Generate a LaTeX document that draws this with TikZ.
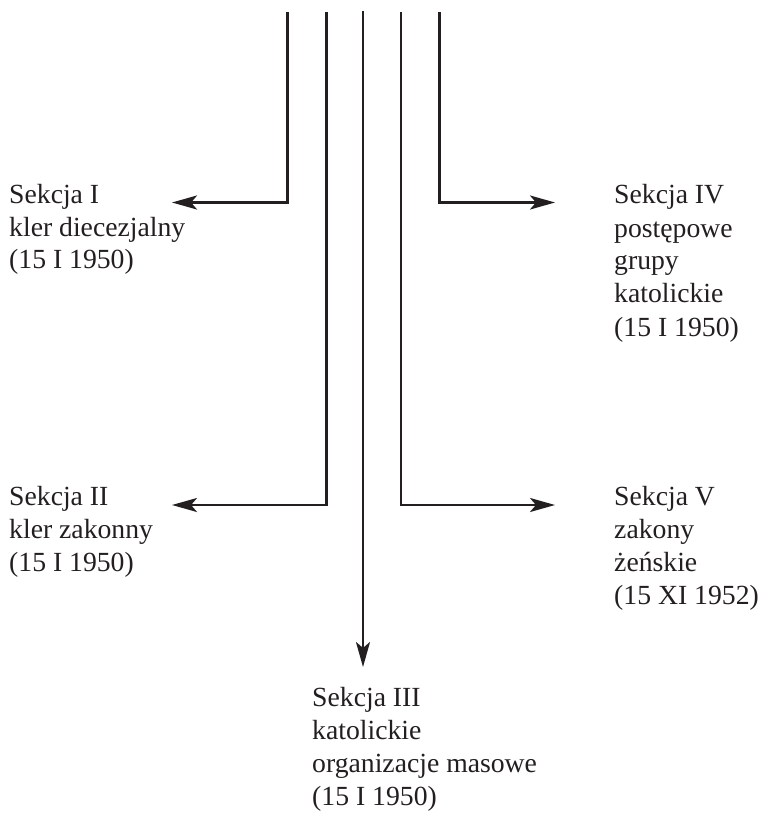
\documentclass[tikz,border=0pt]{standalone}
\usepackage{fontspec}
\setmainfont{Liberation Serif}
\usetikzlibrary{arrows.meta}
\definecolor{ink}{RGB}{35,31,32}
\begin{document}
\begin{tikzpicture}[x=1pt,y=-1pt,
  conn/.style={draw=ink, line width=2.6pt, line join=miter,
    -{Stealth[length=25pt,width=14pt,inset=6pt]}},
  sect/.style={anchor=base west, inner sep=0pt, text=ink,
    font=\fontsize{27.7}{33}\selectfont}]
\useasboundingbox (0,0) rectangle (762,813);

% upper ends of the five feeds
\coordinate (t1) at (287.5,12);
\coordinate (t2) at (326.5,12);
\coordinate (t3) at (363,11);
\coordinate (t4) at (401,12);
\coordinate (t5) at (439.5,12);

% arrow tips
\coordinate (a1) at (172,202.5);
\coordinate (a2) at (172,505);
\coordinate (a3) at (363,667);
\coordinate (a4) at (555,505);
\coordinate (a5) at (555,202.5);

% section labels
\node[sect] (s1) at (9,203)   {\vtop{\hbox{Sekcja I}\hbox{kler diecezjalny}\hbox{(15 I 1950)}}};
\node[sect] (s2) at (9,505)   {\vtop{\hbox{Sekcja II}\hbox{kler zakonny}\hbox{(15 I 1950)}}};
\node[sect] (s3) at (312,706) {\vtop{\hbox{Sekcja III}\hbox{katolickie}\hbox{organizacje masowe}\hbox{(15 I 1950)}}};
\node[sect] (s4) at (614,204) {\vtop{\hbox{Sekcja IV}\hbox{postępowe}\hbox{grupy}\hbox{katolickie}\hbox{(15 I 1950)}}};
\node[sect] (s5) at (614,505) {\vtop{\hbox{Sekcja V}\hbox{zakony}\hbox{żeńskie}\hbox{(15 XI 1952)}}};

% connectors
\draw[conn] (t1) |- (a1);
\draw[conn] (t2) |- (a2);
\draw[conn] (t3) -- (a3);
\draw[conn] (t4) |- (a4);
\draw[conn] (t5) |- (a5);
\end{tikzpicture}
\end{document}
